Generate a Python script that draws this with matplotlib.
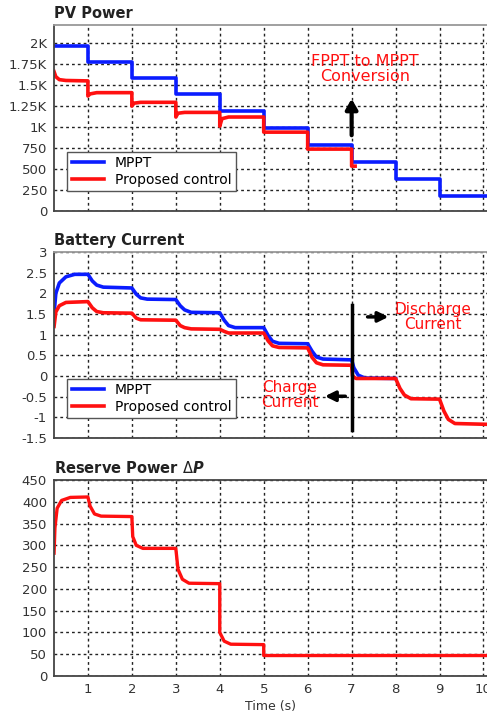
import numpy as np
import matplotlib.pyplot as plt

# PV power (W)
pv_mppt_t = [0.23, 1, 2, 3, 4, 5, 6, 7, 8, 9, 10.1]
pv_mppt = [1965, 1775, 1585, 1390, 1190, 995, 790, 580, 385, 180, 180]
pv_prop_t = [0.23, 0.27, 0.35, 0.5, 1.0, 1.0, 1.05, 1.2, 2.0, 2.0, 2.05, 2.2,
             3.0, 3.0, 3.05, 3.2, 4.0, 4.0, 4.05, 4.2, 5.0, 5.0, 6.0, 6.0, 7.0, 7.0, 7.08]
pv_prop = [1660, 1600, 1565, 1555, 1550, 1370, 1395, 1410, 1410, 1250, 1285, 1295,
           1295, 1120, 1165, 1175, 1175, 1010, 1100, 1120, 1120, 940, 940, 738, 738, 535, 535]

# battery current
bat_mppt_t = [0.23, 0.27, 0.35, 0.5, 0.7, 1.0, 1.1, 1.2, 1.35, 2.0, 2.1, 2.2, 2.35,
              3.0, 3.1, 3.2, 3.35, 4.0, 4.1, 4.2, 4.35, 5.0, 5.1, 5.2, 5.35,
              6.0, 6.1, 6.2, 6.35, 7.0, 7.05, 7.15, 7.3, 8.0]
bat_mppt = [1.5, 2.0, 2.25, 2.4, 2.46, 2.46, 2.3, 2.2, 2.15, 2.13, 1.98, 1.89, 1.86,
            1.85, 1.7, 1.6, 1.54, 1.53, 1.35, 1.22, 1.17, 1.17, 0.98, 0.84, 0.79,
            0.78, 0.6, 0.46, 0.41, 0.39, 0.2, 0.02, -0.05, -0.06]
bat_prop_t = [0.23, 0.27, 0.35, 0.5, 1.0, 1.1, 1.2, 1.35, 2.0, 2.1, 2.2, 3.0, 3.1,
              3.2, 3.35, 4.0, 4.1, 4.2, 5.0, 5.1, 5.2, 5.35, 6.0, 6.1, 6.2, 6.35,
              7.0, 7.02, 7.1, 8.0, 8.1, 8.2, 8.35, 9.0, 9.1, 9.2, 9.35, 10.1]
bat_prop = [1.2, 1.55, 1.7, 1.78, 1.8, 1.65, 1.56, 1.53, 1.52, 1.4, 1.36, 1.35, 1.22,
            1.17, 1.14, 1.13, 1.08, 1.04, 1.04, 0.85, 0.73, 0.69, 0.68, 0.45, 0.32, 0.27,
            0.26, 0.0, -0.06, -0.06, -0.3, -0.46, -0.55, -0.56, -0.85, -1.05, -1.15, -1.17]

# reserve power
res_t = [0.23, 0.25, 0.3, 0.4, 0.6, 1.0, 1.05, 1.15, 1.3, 2.0, 2.02, 2.1, 2.25,
         3.0, 3.05, 3.15, 3.3, 4.0, 4.0, 4.1, 4.25, 5.0, 5.0, 10.1]
res_p = [282, 340, 385, 403, 410, 411, 390, 372, 367, 366, 320, 300, 293,
         293, 245, 222, 213, 212, 100, 80, 73, 72, 47, 47]

fig = plt.figure(figsize=(4.87, 7.18), dpi=100)
ax1 = fig.add_axes([0.111, 0.706, 0.889, 0.259])
ax2 = fig.add_axes([0.111, 0.390, 0.889, 0.259])
ax3 = fig.add_axes([0.111, 0.0585, 0.889, 0.273])

blue = '#0a1cff'
red = '#ff1010'

ax1.plot(pv_mppt_t, pv_mppt, color=blue, lw=2.6, drawstyle='steps-post', label='MPPT')
ax1.plot(pv_prop_t, pv_prop, color=red, lw=2.6, label='Proposed control')
ax1.set_ylim(0, 2214)
ax1.set_yticks(np.arange(0, 2001, 250))
ax1.set_yticklabels(['0', '250', '500', '750', '1K', '1.25K', '1.5K', '1.75K', '2K'])

ax2.plot(bat_mppt_t, bat_mppt, color=blue, lw=2.6, label='MPPT')
ax2.plot(bat_prop_t, bat_prop, color=red, lw=2.6, label='Proposed control')
ax2.set_ylim(-1.5, 3)
ax2.set_yticks(np.arange(-1.5, 3.01, 0.5))
ax2.set_yticklabels(['-1.5', '-1', '-0.5', '0', '0.5', '1', '1.5', '2', '2.5', '3'])

ax3.plot(res_t, res_p, color=red, lw=2.4)
ax3.set_ylim(0, 450)
ax3.set_yticks(np.arange(0, 451, 50))

titles = ['PV Power', 'Battery Current', r'Reserve Power $\Delta\boldsymbol{P}$']
for ax, ttl in zip([ax1, ax2, ax3], titles):
    ax.set_xlim(0.23, 10.08)
    ax.set_xticks(np.arange(1, 11))
    ax.grid(True, color='#222222', linestyle=(0, (2, 2.2)), linewidth=1.0)
    ax.tick_params(length=0, labelsize=9.5, colors='#333333', pad=5)
    for s in ['left', 'bottom', 'top']:
        ax.spines[s].set_color('#444444')
        ax.spines[s].set_linewidth(1.3)
    ax.spines['right'].set_visible(False)
    ax.spines['top'].set_color('#999999')
    ax.set_title(ttl, loc='left', fontsize=10.5, fontweight='bold', pad=5, color='#222222')

ax1.tick_params(labelbottom=False)
ax2.tick_params(labelbottom=False)
ax3.spines['top'].set_color('#444444')
ax3.set_xlabel('Time (s)', fontsize=9, labelpad=3, color='#333333')

for ax in [ax1, ax2]:
    leg = ax.legend(loc='lower left', bbox_to_anchor=(0.015, 0.07), fontsize=10,
                    fancybox=False, framealpha=1, edgecolor='#555555',
                    handlelength=2.3, borderpad=0.3, labelspacing=0.2)
    leg.get_frame().set_linewidth(1.0)

# annotations
ax1.text(7.3, 1690, 'FPPT to MPPT\nConversion', color=red, fontsize=11.5,
         ha='center', va='center', linespacing=1.0)
ax1.annotate('', xy=(7.0, 1370), xytext=(7.0, 870),
             arrowprops=dict(arrowstyle='-|>,head_width=0.35,head_length=0.6',
                             color='black', lw=3))

ax2.plot([7.0, 7.0], [1.72, -1.31], color='black', lw=2.5)
ax2.annotate('', xy=(7.9, 1.43), xytext=(7.3, 1.43),
             arrowprops=dict(arrowstyle='-|>,head_width=0.3,head_length=0.6',
                             color='black', lw=2.5))
ax2.text(8.85, 1.43, 'Discharge\nCurrent', color=red, fontsize=11,
         ha='center', va='center', linespacing=1.0)
ax2.annotate('', xy=(6.33, -0.49), xytext=(6.92, -0.49),
             arrowprops=dict(arrowstyle='-|>,head_width=0.3,head_length=0.6',
                             color='black', lw=2.5))
ax2.text(5.6, -0.47, 'Charge\nCurrent', color=red, fontsize=11,
         ha='center', va='center', linespacing=1.0)

plt.savefig('out.png', dpi=100)
